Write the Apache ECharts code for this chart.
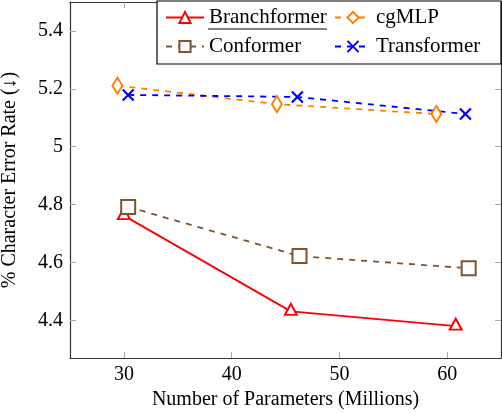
<!DOCTYPE html>
<html>
<head>
<meta charset="utf-8">
<script src="https://cdn.jsdelivr.net/npm/echarts@6/dist/echarts.min.js"></script>
<style>
  html, body { margin: 0; padding: 0; background: #fff; }
  #main { width: 502px; height: 414px; }
</style>
</head>
<body>
<div id="main"></div>
<script>
// values
var branchX = [30.0, 45.5, 60.8];
var branchY = [4.762, 4.431, 4.380];
var cgmlpX = [29.4, 44.2, 59.0];
var cgmlpY = [5.211, 5.147, 5.113];
var confX = [30.4, 46.3, 62.0];
var confY = [4.792, 4.622, 4.580];
var transX = [30.4, 46.1, 61.7];
var transY = [5.179, 5.172, 5.113];

var xTicks = [30, 40, 50, 60];
var yTicks = [4.4, 4.6, 4.8, 5, 5.2, 5.4];

var FONT = 'Liberation Serif';
var BROWN = '#7d5530';

function pairs(xs, ys) {
    var out = [];
    for (var i = 0; i < xs.length; i++) out.push([xs[i], ys[i]]);
    return out;
}

var myChart = echarts.init(document.getElementById('main'));

var tickStyle = { show: true, inside: true, length: 6, lineStyle: { color: '#aaa', width: 1 } };
// rich text so the serif face is used for the tick numbers
var numRich = { n: { fontFamily: FONT, fontSize: 20, color: '#000' } };

var option = {
    animation: false,
    backgroundColor: '#fff',
    textStyle: { fontFamily: FONT },
    grid: { left: 70, right: 1, top: 2, bottom: 56, containLabel: false, outerBoundsMode: 'none' },
    xAxis: [{
        type: 'value', min: 25, max: 65,
        name: 'Number of Parameters (Millions)',
        nameLocation: 'middle', nameGap: 32,
        nameTextStyle: { fontFamily: FONT, fontSize: 20, color: '#000' },
        axisLine: { lineStyle: { color: '#333', width: 1.2 } },
        axisTick: Object.assign({ customValues: xTicks }, tickStyle),
        axisLabel: { customValues: xTicks, margin: 7, formatter: '{n|{value}}', rich: numRich },
        splitLine: { show: false }
    }, {
        type: 'value', min: 25, max: 65, position: 'top',
        axisLine: { onZero: false, lineStyle: { color: '#333', width: 1.2 } },
        axisTick: Object.assign({ customValues: xTicks }, tickStyle),
        axisLabel: { show: false },
        splitLine: { show: false }
    }],
    yAxis: [{
        type: 'value', min: 4.27, max: 5.5,
        name: '% Character Error Rate (↓)',
        nameLocation: 'middle', nameGap: 50,
        nameTextStyle: { fontFamily: FONT, fontSize: 20, color: '#000' },
        axisLine: { show: true, lineStyle: { color: '#333', width: 1.2 } },
        axisTick: Object.assign({ customValues: yTicks }, tickStyle),
        axisLabel: { customValues: yTicks, margin: 7, formatter: '{n|{value}}', rich: numRich },
        splitLine: { show: false }
    }, {
        type: 'value', min: 4.27, max: 5.5, position: 'right',
        axisLine: { show: true, onZero: false, lineStyle: { color: '#333', width: 1.2 } },
        axisTick: Object.assign({ customValues: yTicks }, tickStyle),
        axisLabel: { show: false },
        splitLine: { show: false }
    }],
    legend: [{
        orient: 'vertical', left: 165, top: 7, z: 10, padding: 0,
        itemWidth: 38, itemHeight: 14, itemGap: 8,
        textStyle: { fontFamily: FONT, fontSize: 21, color: '#000', lineHeight: 20 },
        data: ['Branchformer', 'Conformer']
    }, {
        orient: 'vertical', left: 334, top: 7, z: 10, padding: 0,
        itemWidth: 36, itemHeight: 14, itemGap: 8,
        textStyle: { fontFamily: FONT, fontSize: 21, color: '#000', lineHeight: 20 },
        data: ['cgMLP', 'Transformer']
    }],
    graphic: [{
        type: 'rect', z: 5,
        shape: { x: 157, y: 1, width: 344, height: 63 },
        style: { fill: '#fff', stroke: '#000', lineWidth: 1.2 }
    }, {
        type: 'line', z: 11,
        shape: { x1: 208, y1: 29, x2: 327, y2: 29 },
        style: { stroke: '#000', lineWidth: 1 }
    }],
    series: [{
        name: 'Branchformer', type: 'line',
        data: pairs(branchX, branchY),
        symbol: 'emptyTriangle', symbolSize: [12, 11], symbolOffset: [0, -2],
        lineStyle: { color: '#ff0000', width: 1.8 },
        itemStyle: { color: '#ff0000', borderWidth: 2 }
    }, {
        name: 'cgMLP', type: 'line',
        data: pairs(cgmlpX, cgmlpY),
        symbol: 'emptyDiamond', symbolSize: [10, 16],
        lineStyle: { color: '#ff8000', width: 1.8, type: [6, 6] },
        itemStyle: { color: '#ff8000', borderWidth: 2 }
    }, {
        name: 'Conformer', type: 'line',
        data: pairs(confX, confY),
        symbol: 'emptyRect', symbolSize: 14,
        lineStyle: { color: BROWN, width: 1.8, type: [6, 6] },
        itemStyle: { color: BROWN, borderWidth: 2 }
    }, {
        name: 'Transformer', type: 'line',
        data: pairs(transX, transY),
        symbol: 'path://M0,0L10,10M10,0L0,10', symbolSize: 11,
        lineStyle: { color: '#0000ff', width: 1.8, type: [6, 6] },
        itemStyle: { color: 'none', borderColor: '#0000ff', borderWidth: 2.2 }
    }]
};
myChart.setOption(option);
</script>
</body>
</html>
